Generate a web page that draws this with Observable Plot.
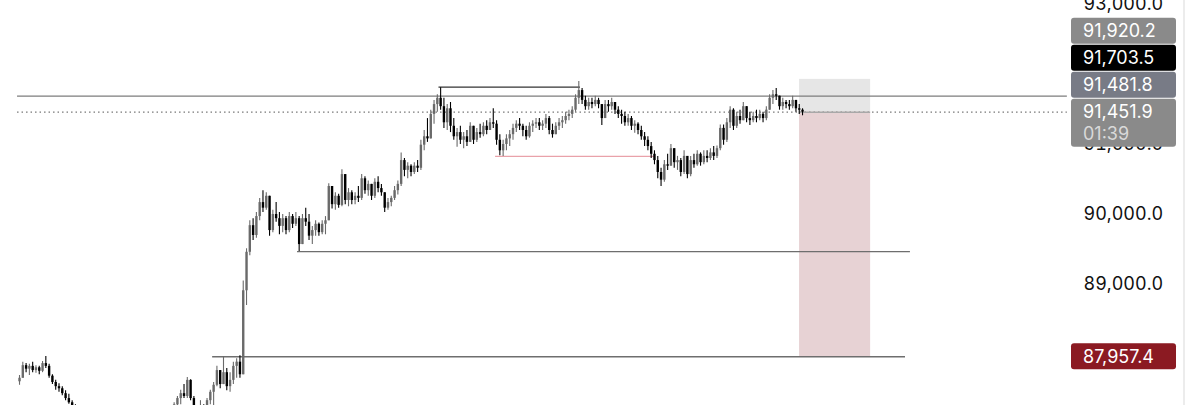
<!DOCTYPE html>
<html><head><meta charset="utf-8">
<script src="https://cdn.jsdelivr.net/npm/d3@7"></script>
<script src="https://cdn.jsdelivr.net/npm/@observablehq/plot@0.6"></script>
<style>
html,body{margin:0;padding:0;background:#fff;}
#chart{width:1200px;height:405px;overflow:hidden;position:relative;}
</style></head><body><div id="chart"></div>
<script>
// ---- Bar data (price units), one entry per bar ----
const highs = [87690,87880,87860,87850,87880,87830,87820,87890,87960,87850,87700,87620,87570,87530,87470,87420,87330,87270,87200,87120,
87060,87000,86950,86900,86880,86850,86900,86920,86950,86930,86880,86850,86900,86960,87000,87020,87050,87080,87100,87120,
87150,87180,87200,87220,87240,87230,87250,87300,87390,87480,87560,87660,87630,87390,87260,87330,87270,87360,87480,87590,
87820,87730,87960,87790,87730,87880,87930,87970,89040,89500,89900,89930,90020,90220,90330,90300,90190,90050,90160,90020,
89990,89960,90020,89990,90020,89960,89990,90080,89990,89820,89900,89870,89900,89960,90430,90360,90300,90280,90630,90530,
90360,90330,90300,90390,90560,90530,90470,90420,90500,90530,90420,90300,90220,90250,90390,90470,90870,90790,90730,90700,
90730,90760,91050,91190,91360,91480,91620,91700,91800,91650,91560,91590,91360,91220,91250,91160,91190,91300,91250,91220,
91280,91300,91330,91360,91500,91330,91130,91050,91130,91190,91280,91330,91360,91280,91250,91300,91330,91360,91360,91330,
91420,91390,91280,91300,91360,91390,91450,91480,91530,91700,91890,91790,91680,91650,91650,91680,91650,91560,91620,91620,
91650,91590,91530,91480,91450,91420,91390,91330,91300,91250,91160,91100,91020,90900,90820,90650,90760,90850,90990,90900,
90820,90790,90900,90760,90820,90850,90900,90870,90900,90900,90930,90960,90970,91270,91270,91360,91530,91500,91450,91480,
91590,91530,91450,91450,91480,91480,91450,91530,91700,91760,91790,91680,91650,91620,91620,91680,91590,91560,91500];
const lows = [87550,87650,87730,87690,87730,87720,87700,87730,87790,87650,87560,87480,87450,87400,87330,87280,87190,87120,87050,86980,
86900,86850,86800,86760,86720,86700,86780,86800,86820,86790,86740,86700,86780,86820,86880,86900,86930,86950,86980,87000,
87020,87050,87060,87100,87120,87110,87130,87160,87220,87270,87360,87360,87330,87160,87070,87130,87120,87160,87270,87260,
87530,87500,87560,87470,87450,87560,87650,87650,87730,88690,89400,89620,89650,89900,90020,90050,89680,89730,89880,89700,
89730,89700,89730,89790,89820,89460,89650,89820,89620,89560,89680,89680,89700,89700,89970,90070,90050,90080,90100,90130,
90100,90130,90130,90160,90190,90280,90250,90190,90220,90300,90250,90020,90050,90100,90190,90270,90390,90530,90500,90530,
90560,90590,90620,90900,91020,91100,91280,91450,91480,91220,91190,91160,91050,90950,90990,90930,90960,91020,90990,91020,
91080,91100,91130,91190,91220,90980,90830,90820,90900,90960,91050,91160,91190,91100,91050,91080,91160,91220,91190,91190,
91220,91130,91080,91130,91190,91220,91280,91330,91360,91450,91560,91560,91480,91480,91500,91530,91500,91260,91360,91450,
91480,91420,91360,91280,91250,91250,91190,91150,91130,91050,90960,90900,90790,90700,90500,90390,90450,90620,90680,90650,
90620,90530,90560,90500,90530,90650,90680,90680,90700,90730,90760,90760,90790,90900,90980,91020,91220,91190,91220,91280,
91390,91300,91260,91300,91300,91330,91300,91330,91480,91560,91620,91480,91480,91500,91480,91500,91450,91420,91400];
const closes = [87650,87830,87780,87820,87760,87800,87750,87860,87820,87680,87590,87530,87500,87430,87360,87300,87220,87150,87080,87010,
86950,86880,86830,86800,86760,86820,86850,86880,86900,86820,86780,86800,86860,86930,86950,86980,87000,87040,87060,87080,
87100,87130,87150,87180,87200,87160,87220,87270,87360,87430,87390,87620,87360,87190,87130,87260,87190,87330,87450,87550,
87760,87560,87730,87530,87620,87820,87880,87700,88900,89450,89830,89690,89960,90160,90080,90250,89760,89990,89930,89820,
89930,89760,89960,89850,89930,89560,89930,89880,89680,89760,89850,89730,89850,89900,90390,90130,90250,90120,90560,90190,
90300,90190,90250,90220,90500,90330,90420,90250,90450,90360,90300,90080,90160,90220,90330,90420,90760,90620,90680,90590,
90680,90650,90980,91100,91070,91420,91560,91650,91530,91300,91500,91250,91100,91160,91050,91100,91020,91250,91050,91160,
91130,91250,91190,91300,91280,91050,90900,90990,91070,91130,91220,91280,91250,91190,91100,91250,91280,91300,91250,91280,
91360,91190,91130,91250,91300,91330,91390,91420,91480,91650,91760,91620,91530,91590,91560,91620,91560,91360,91560,91530,
91590,91480,91420,91390,91300,91360,91250,91280,91190,91100,91050,90960,90850,90760,90590,90480,90700,90680,90930,90730,
90760,90590,90820,90560,90760,90700,90850,90730,90820,90790,90870,90820,90930,91220,91050,91300,91480,91250,91390,91330,
91530,91360,91330,91390,91360,91420,91360,91480,91650,91700,91680,91530,91590,91560,91530,91620,91500,91480,91451.9];
const firstOpen = 87600;

// ---- Axis ticks (88,000 and 92,000 sit fully under price labels) ----
const yTicks = [89000, 90000, 91000, 93000];

// ---- Horizontal levels (price, start bar, end bar) ----
const levelPrices = [91680, 89460, 87957.4];
const levelStarts = [-0.6, 84.5, 58.7];
const levelEnds = [318.5, 270.8, 269.3];
const rangeHighPrice = 91810, rangeHighStart = 127.5, rangeHighEnd = 170.5;
const rangeLowPrice = 90820, rangeLowStart = 144.7, rangeLowEnd = 193.3;

// ---- Position tool ----
const posStop = 91920.2, posEntry = 91451.9, posTarget = 87957.4;
const posStart = 237.1, posEnd = 258.7;

// ---- Price scale labels ----
const stackLabels = [91481.8, 91703.5, 91920.2];
const stackColors = ["#787b86", "#000000", "#8a8a8a"];
const lastPrice = 91451.9, countdown = "01:39";

const FONT = "Inter, 'Liberation Sans', Arial, sans-serif";
const fmt = d3.format(",.1f");

const bars = closes.map((c, i) => {
  const o = i ? closes[i - 1] : firstOpen;
  return {i, o, c, h: Math.max(highs[i], o, c), l: Math.min(lows[i], o, c)};
});
const col = d => d.c >= d.o ? "#6a6a6a" : "#000000";
const levels = levelPrices.map((p, k) => ({p, s: levelStarts[k], e: levelEnds[k]}));

const chart = Plot.plot({
  width: 1200, height: 405,
  marginLeft: 0, marginRight: 133, marginTop: 0, marginBottom: 0,
  x: {domain: [-5.78, 318.54], axis: null},
  y: {domain: [87261, 93047], axis: null},
  style: {fontFamily: FONT, background: "#fff", overflow: "hidden"},
  marks: [
    Plot.rect([{}], {x1: posStart, x2: posEnd, y1: posEntry, y2: posStop, fill: "#e6e6e6"}),
    Plot.rect([{}], {x1: posStart, x2: posEnd, y1: posTarget, y2: posEntry, fill: "#e7d2d4"}),
    Plot.ruleY(levels.slice(0, 1), {y: "p", x1: "s", x2: "e", stroke: "#7d7d7d", strokeWidth: 1.3}),
    Plot.ruleY(levels.slice(1), {y: "p", x1: "s", x2: "e", stroke: "#6e6e6e", strokeWidth: 1.3}),
    Plot.ruleY([lastPrice], {x1: -0.6, x2: 318.5, stroke: "#777", strokeWidth: 1.3, strokeDasharray: "1.5,3"}),
    Plot.ruleY([posEntry], {x1: posStart, x2: posEnd, stroke: "#a8a8a8", strokeWidth: 1.5}),
    Plot.ruleY([rangeHighPrice], {x1: rangeHighStart, x2: rangeHighEnd, stroke: "#333", strokeWidth: 1.2}),
    Plot.ruleY([rangeLowPrice], {x1: rangeLowStart, x2: rangeLowEnd, stroke: "#e9a2aa", strokeWidth: 1.3}),
    Plot.ruleX(bars, {x: "i", y1: "l", y2: "h", stroke: col, strokeWidth: 1.1, clip: true}),
    Plot.ruleX(bars, {x: "i", y1: "o", y2: "c", stroke: col, strokeWidth: 2.4, clip: true}),
    Plot.axisY(yTicks, {anchor: "right", tickSize: 0, tickPadding: 16, fontSize: 18, tickFormat: fmt, label: null, fill: "#111"})
  ]
});
document.getElementById("chart").appendChild(chart);

// ---- Price labels on the scale, stacked above the live price ----
const svg = d3.select(chart);
const ys = chart.scale("y");
const xr = chart.scale("x").range;
const bx = xr[1] + 4, bw = 105, bh = 26;
const g = svg.append("g").attr("font-family", FONT).attr("font-size", 18).attr("text-anchor", "start");
function drawBox(boxTop, h, color, texts) {
  g.append("rect").attr("x", bx).attr("y", boxTop).attr("width", bw).attr("height", h)
    .attr("rx", 3).attr("fill", color);
  texts.forEach((t, k) => {
    g.append("text").attr("x", bx + 12).attr("y", boxTop + bh / 2 + k * 22).attr("dy", "0.36em")
      .attr("text-anchor", "start").attr("fill", k ? "#d9d9d9" : "#fff").text(t);
  });
}
const curTop = ys.apply(lastPrice) - bh / 2;
drawBox(curTop, 48, "#8a8a8a", [fmt(lastPrice), countdown]);
let limit = curTop - 1;
stackLabels.forEach((v, k) => {
  const bottom = Math.min(ys.apply(v) + bh / 2, limit);
  drawBox(bottom - bh, bh, stackColors[k], [fmt(v)]);
  limit = bottom - bh - 1;
});
drawBox(ys.apply(posTarget) - bh / 2, bh, "#8b1a22", [fmt(posTarget)]);
svg.append("line").attr("x1", 1184).attr("x2", 1184).attr("y1", 0).attr("y2", 405)
  .attr("stroke", "#e6e6e6").attr("stroke-width", 1.5);
</script></body></html>
